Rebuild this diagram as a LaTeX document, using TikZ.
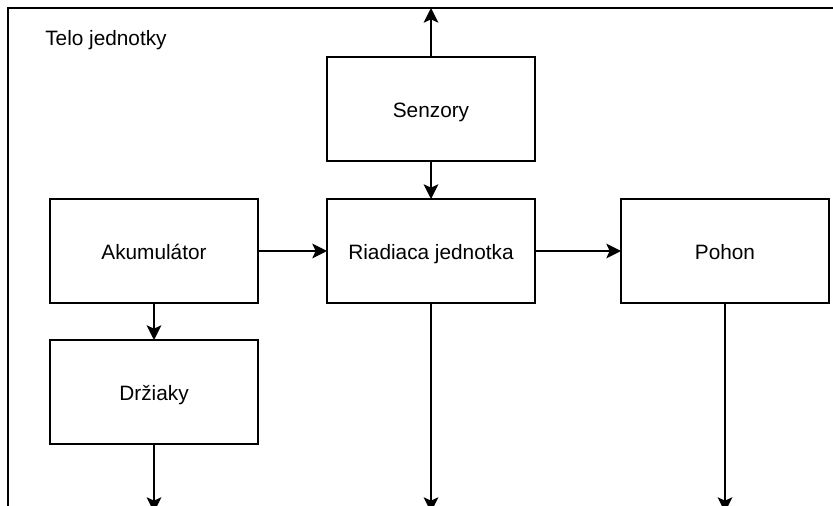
\documentclass[tikz,border=0pt]{standalone}
\usepackage{fontspec}
\setmainfont{Liberation Sans}
\usetikzlibrary{arrows.meta}
\begin{document}
\begin{tikzpicture}[x=0.75pt,y=-0.75pt,
  blk/.style={draw, line width=1.5pt, minimum width=156pt, minimum height=78pt, inner sep=0pt, outer sep=0pt, text height=15pt, text depth=1.5pt, font=\fontsize{15.6}{18}\selectfont, anchor=north west, text=black},
  arr/.style={line width=1.5pt, -{Stealth[length=11pt,width=11pt,inset=2.5pt]}},
  frame/.style={draw, line width=1.5pt}]
\useasboundingbox (0,0) rectangle (833,506);
\draw[frame] (8,520) -- (8,8) -- (850,8);
\node[anchor=base west, font=\fontsize{15.6}{18}\selectfont, inner sep=0pt] (title) at (45,46) {Telo jednotky};
\node[blk] (sen) at (327,57) {Senzory};
\node[blk] (aku) at (50,199) {Akumulátor};
\node[blk] (ria) at (327,199) {Riadiaca jednotka};
\node[blk] (poh) at (621,199) {Pohon};
\node[blk] (drz) at (50,340) {Držiaky};
\coordinate (top) at (sen.north |- 0,8);
\coordinate (b1) at (drz.south |- 0,512);
\coordinate (b2) at (ria.south |- 0,512);
\coordinate (b3) at (poh.south |- 0,512);
\draw[arr] (sen.north) -- (top);
\draw[arr] (sen.south) -- (ria.north);
\draw[arr] (aku.east) -- (ria.west);
\draw[arr] (ria.east) -- (poh.west);
\draw[arr] (aku.south) -- (drz.north);
\draw[arr] (drz.south) -- (b1);
\draw[arr] (ria.south) -- (b2);
\draw[arr] (poh.south) -- (b3);
\end{tikzpicture}
\end{document}
